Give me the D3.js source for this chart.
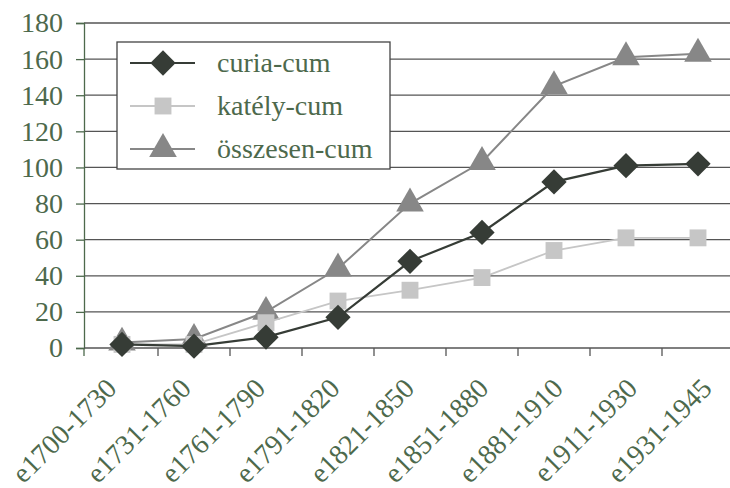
<!DOCTYPE html>
<html>
<head>
<meta charset="utf-8">
<script src="https://cdn.jsdelivr.net/npm/d3@7"></script>
<style>
  body { margin: 0; background: #fff; }
</style>
</head>
<body>
<div id="container"></div>
<script>
// periods on the x axis
const periods = ["e1700-1730", "e1731-1760", "e1761-1790", "e1791-1820", "e1821-1850",
                 "e1851-1880", "e1881-1910", "e1911-1930", "e1931-1945"];

// cumulative counts
const curia = [2, 1, 6, 17, 48, 64, 92, 101, 102];
const kately = [2, 2, 14, 26, 32, 39, 54, 61, 61];
const osszesen = [3, 5, 20, 44, 80, 103, 145, 161, 163];

const yTicks = [0, 20, 40, 60, 80, 100, 120, 140, 160, 180];

const FONT = "Liberation Serif";
const margin = { left: 84, top: 23 };
const W = 730, H = 488;
const plotW = W - margin.left;
const plotH = 348 - 23;

const x = d3.scaleBand()
    .domain(periods)
    .range([2, 2 + 9 * 72]);

// the rotated labels sit slightly wider apart than the points
const xLabel = d3.scaleBand()
    .domain(periods)
    .range([-3, -3 + 9 * 74.4]);

const y = d3.scaleLinear()
    .domain([0, 180])
    .range([plotH, 0]);

const svg = d3.select("#container")
    .append("svg")
    .attr("width", W)
    .attr("height", H);

const g = svg.append("g")
    .attr("transform", `translate(${margin.left},${margin.top})`);

const axisColor = "#4d694c";

// gridlines
g.append("g")
    .selectAll("line")
    .data(yTicks.filter(d => d > 0))
    .join("line")
    .attr("x1", 0)
    .attr("x2", plotW)
    .attr("y1", d => y(d))
    .attr("y2", d => y(d))
    .attr("stroke", "#555")
    .attr("stroke-width", 1.3);

// y axis
const yAxis = g.append("g")
    .call(d3.axisLeft(y).tickValues(yTicks).tickSize(8).tickPadding(13));
yAxis.attr("font-family", FONT).attr("font-size", 28);
yAxis.selectAll("path, line").attr("stroke", axisColor).attr("stroke-width", 1.3);
yAxis.selectAll("text")
    .attr("font-family", FONT)
    .attr("font-size", 28)
    .attr("fill", axisColor);

// x axis (ticks between categories)
const xAxis = g.append("g")
    .attr("transform", `translate(0,${plotH})`);
xAxis.append("line")
    .attr("x1", 0).attr("x2", plotW)
    .attr("stroke", "#555").attr("stroke-width", 1.3);
xAxis.append("line")
    .attr("x1", 0).attr("x2", 0)
    .attr("y1", 0).attr("y2", 8)
    .attr("stroke", axisColor).attr("stroke-width", 1.3);
xAxis.selectAll("line.tick")
    .data(periods.slice(1))
    .join("line")
    .attr("class", "tick")
    .attr("x1", d => x(d)).attr("x2", d => x(d))
    .attr("y1", 0).attr("y2", 8)
    .attr("stroke", "#555")
    .attr("stroke-width", 1.3);
xAxis.selectAll("text")
    .data(periods)
    .join("text")
    .attr("transform", d => `translate(${xLabel(d) + xLabel.bandwidth() / 2},42) rotate(-45)`)
    .attr("text-anchor", "end")
    .attr("font-family", FONT)
    .attr("font-size", 28)
    .attr("fill", axisColor)
    .text(d => d);

const series = [
    { name: "curia-cum", values: curia, color: "#363c36", symbol: d3.symbolSquare, size: 320, rot: 45, lw: 2.2 },
    { name: "katély-cum", values: kately, color: "#c6c6c6", symbol: d3.symbolSquare, size: 285, rot: 0, lw: 1.8 },
    { name: "összesen-cum", values: osszesen, color: "#878787", symbol: d3.symbolTriangle, size: 330, rot: 0, lw: 2 }
];

const line = d3.line()
    .x((d, i) => x(periods[i]) + x.bandwidth() / 2)
    .y(d => y(d));

// draw order: összesen, katély, curia on top
[series[2], series[1], series[0]].forEach(s => {
    g.append("path")
        .datum(s.values)
        .attr("d", line)
        .attr("fill", "none")
        .attr("stroke", s.color)
        .attr("stroke-width", s.lw);
    g.append("g")
        .selectAll("path")
        .data(s.values)
        .join("path")
        .attr("d", d3.symbol().type(s.symbol).size(s.size))
        .attr("transform", (d, i) => `translate(${x(periods[i]) + x.bandwidth() / 2},${y(d)}) rotate(${s.rot})`)
        .attr("fill", s.color);
});

// legend
const legend = svg.append("g")
    .attr("transform", "translate(117,42)");
legend.append("rect")
    .attr("width", 273)
    .attr("height", 127)
    .attr("fill", "#fff")
    .attr("stroke", "#444")
    .attr("stroke-width", 1.3);
const items = legend.selectAll("g.item")
    .data(series)
    .join("g")
    .attr("class", "item")
    .attr("transform", (d, i) => `translate(0,${21 + i * 43})`);
items.append("line")
    .attr("x1", 13).attr("x2", 78)
    .attr("stroke", d => d.color)
    .attr("stroke-width", d => d.lw);
items.append("path")
    .attr("d", d => d3.symbol().type(d.symbol).size(d.size)())
    .attr("transform", d => `translate(46,0) rotate(${d.rot})`)
    .attr("fill", d => d.color);
items.append("text")
    .attr("x", 100)
    .attr("y", 9)
    .attr("font-family", FONT)
    .attr("font-size", 28)
    .attr("fill", axisColor)
    .text(d => d.name);
</script>
</body>
</html>
